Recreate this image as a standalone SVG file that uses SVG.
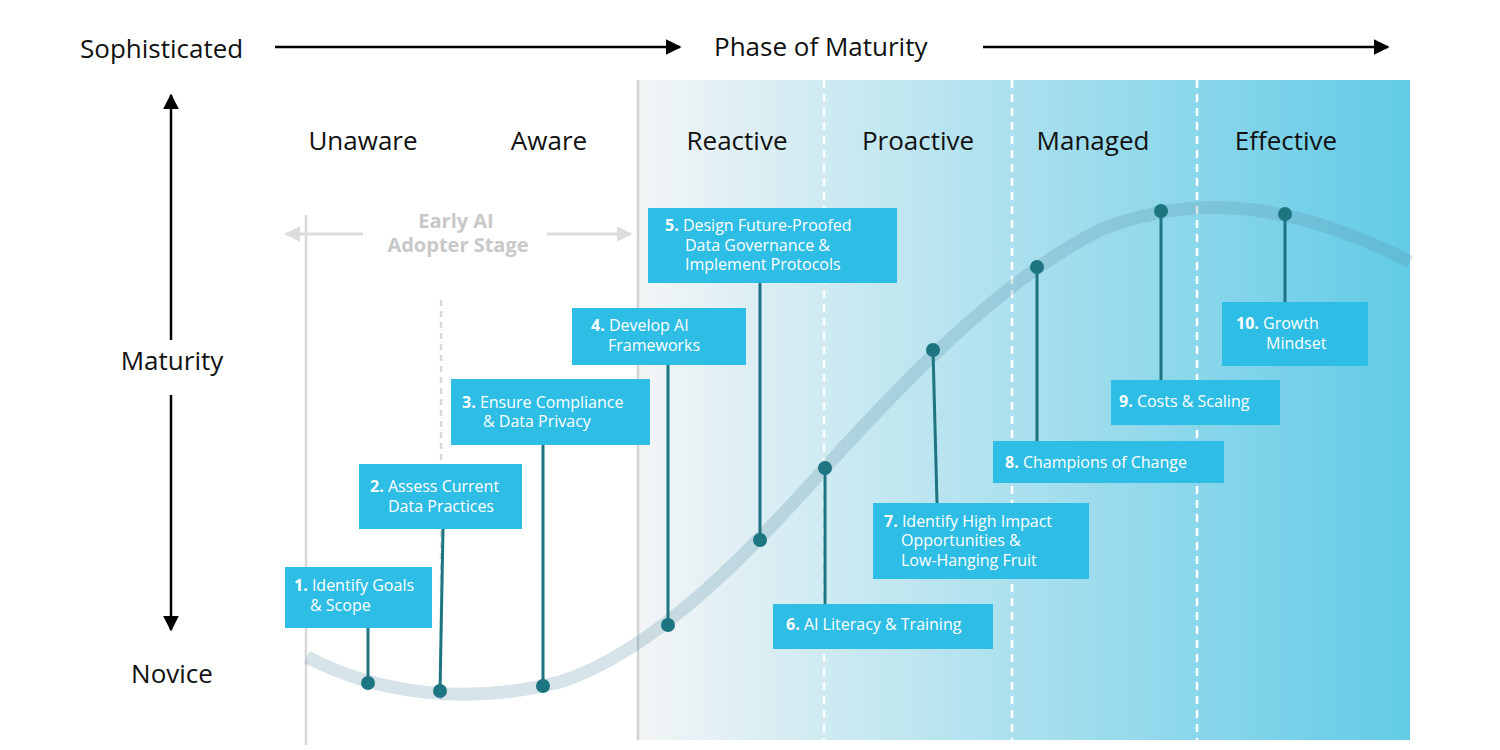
<svg xmlns="http://www.w3.org/2000/svg" width="1500" height="750" viewBox="0 0 1500 750">
<defs>
<linearGradient id="bg" x1="0" y1="0" x2="1" y2="0">
<stop offset="0" stop-color="#f3f5f6"/><stop offset="0.3" stop-color="#c6e8f1"/><stop offset="1" stop-color="#62cbe6"/>
</linearGradient>
<marker id="ah" viewBox="0 0 10 10" refX="9" refY="5" markerWidth="6" markerHeight="6" orient="auto-start-reverse" markerUnits="userSpaceOnUse"><path d="M0,0 L10,5 L0,10 z" fill="#000"/></marker>
<marker id="ahb" viewBox="0 0 10 10" refX="9" refY="5" markerWidth="16" markerHeight="16" orient="auto-start-reverse" markerUnits="userSpaceOnUse"><path d="M0,0 L10,5 L0,10 z" fill="#000"/></marker>
<marker id="ahg" viewBox="0 0 10 10" refX="9" refY="5" markerWidth="16" markerHeight="20" orient="auto-start-reverse" markerUnits="userSpaceOnUse"><path d="M0,0 L10,5 L0,10 z" fill="#dcdcdc"/></marker>
</defs>
<style>
.t{font-family:"Open Sans","Noto Sans",sans-serif;fill:#111}
.big{font-size:26px}
.box{fill:#2ebde4}
.bt{font-family:"Open Sans","Noto Sans",sans-serif;font-size:16px;fill:#fff}
.bt tspan.n{font-weight:bold}
.stem{stroke:#1d7581;stroke-width:3}
.dot{fill:#1d7581}
.ey{font-family:"Open Sans","Noto Sans",sans-serif;font-size:20px;font-weight:bold;fill:#c8c8c8}
</style>
<rect x="638" y="80" width="772" height="660" fill="url(#bg)"/>
<g id="guides">
<line x1="638" y1="80" x2="638" y2="740" stroke="#cfd3d5" stroke-width="2.5"/>
<line x1="306" y1="215" x2="306" y2="745" stroke="#d8d8d8" stroke-width="2.5"/>
<line x1="441" y1="300" x2="441" y2="700" stroke="#d8d8d8" stroke-width="2.5" stroke-dasharray="6,5"/>
<line x1="824" y1="80" x2="824" y2="740" stroke="#fff" stroke-width="2.5" stroke-dasharray="8,6"/>
<line x1="1012" y1="80" x2="1012" y2="740" stroke="#fff" stroke-width="2.5" stroke-dasharray="8,6"/>
<line x1="1197" y1="80" x2="1197" y2="740" stroke="#fff" stroke-width="2.5" stroke-dasharray="8,6"/>
</g>
<path id="curve" d="M307,657 C380,695 470,705 560,682 C660,650 760,540 825,468 C900,385 1000,280 1100,230 C1200,190 1300,205 1410,262" fill="none" stroke="#5d8fa6" stroke-opacity="0.25" stroke-width="13"/>
<g id="axes">
<text class="t big" x="80" y="58">Sophisticated</text>
<line x1="275" y1="47" x2="680" y2="47" stroke="#000" stroke-width="2.5" marker-end="url(#ahb)"/>
<text class="t big" x="714" y="56">Phase of Maturity</text>
<line x1="983" y1="47" x2="1388" y2="47" stroke="#000" stroke-width="2.5" marker-end="url(#ahb)"/>
<line x1="171" y1="340" x2="171" y2="95" stroke="#000" stroke-width="2.5" marker-end="url(#ahb)"/>
<line x1="171" y1="395" x2="171" y2="630" stroke="#000" stroke-width="2.5" marker-end="url(#ahb)"/>
<text class="t big" x="172" y="370" text-anchor="middle">Maturity</text>
<text class="t big" x="172" y="683" text-anchor="middle">Novice</text>
</g>
<g id="stages" class="t big" text-anchor="middle">
<text class="t big" x="363" y="150">Unaware</text>
<text class="t big" x="549" y="150">Aware</text>
<text class="t big" x="737" y="150">Reactive</text>
<text class="t big" x="918" y="150">Proactive</text>
<text class="t big" x="1093" y="150">Managed</text>
<text class="t big" x="1286" y="150">Effective</text>
</g>
<g id="early">
<text class="ey" x="456" y="228" text-anchor="middle">Early AI</text>
<text class="ey" x="458" y="252" text-anchor="middle">Adopter Stage</text>
<line x1="363" y1="234" x2="286" y2="234" stroke="#dcdcdc" stroke-width="3" marker-end="url(#ahg)"/>
<line x1="547" y1="234" x2="631" y2="234" stroke="#dcdcdc" stroke-width="3" marker-end="url(#ahg)"/>
</g>
<g id="connectors">
<line class="stem" x1="368" y1="628" x2="368" y2="683"/>
<line class="stem" x1="443" y1="529" x2="440" y2="691"/>
<line class="stem" x1="543" y1="445" x2="543" y2="686"/>
<line class="stem" x1="668" y1="365" x2="668" y2="625"/>
<line class="stem" x1="760" y1="283" x2="760" y2="540"/>
<line class="stem" x1="825" y1="468" x2="825" y2="604"/>
<line class="stem" x1="933" y1="350" x2="937" y2="503"/>
<line class="stem" x1="1037" y1="267" x2="1037" y2="441"/>
<line class="stem" x1="1161" y1="211" x2="1161" y2="380"/>
<line class="stem" x1="1285" y1="214" x2="1285" y2="302"/>
<circle class="dot" cx="368" cy="683" r="7"/>
<circle class="dot" cx="440" cy="691" r="7"/>
<circle class="dot" cx="543" cy="686" r="7"/>
<circle class="dot" cx="668" cy="625" r="7"/>
<circle class="dot" cx="760" cy="540" r="7"/>
<circle class="dot" cx="825" cy="468" r="7"/>
<circle class="dot" cx="933" cy="350" r="7"/>
<circle class="dot" cx="1037" cy="267" r="7"/>
<circle class="dot" cx="1161" cy="211" r="7"/>
<circle class="dot" cx="1285" cy="214" r="7"/>
</g>
<g id="n1"><rect class="box" x="285" y="567" width="147" height="61"/><text class="bt" x="294" y="591"><tspan class="n">1.</tspan> Identify Goals</text><text class="bt" x="310" y="611">&amp; Scope</text></g>
<g id="n2"><rect class="box" x="359" y="464" width="163" height="65"/><text class="bt" x="370" y="492"><tspan class="n">2.</tspan> Assess Current</text><text class="bt" x="388" y="512">Data Practices</text></g>
<g id="n3"><rect class="box" x="451" y="379" width="199" height="66"/><text class="bt" x="462" y="408"><tspan class="n">3.</tspan> Ensure Compliance</text><text class="bt" x="483" y="427">&amp; Data Privacy</text></g>
<g id="n4"><rect class="box" x="572" y="308" width="174" height="57"/><text class="bt" x="591" y="331"><tspan class="n">4.</tspan> Develop AI</text><text class="bt" x="608" y="351">Frameworks</text></g>
<g id="n5"><rect class="box" x="648" y="208" width="249" height="75"/><text class="bt" x="665" y="231"><tspan class="n">5.</tspan> Design Future-Proofed</text><text class="bt" x="685" y="251">Data Governance &amp;</text><text class="bt" x="685" y="270">Implement Protocols</text></g>
<g id="n6"><rect class="box" x="773" y="604" width="220" height="45"/><text class="bt" x="786" y="630"><tspan class="n">6.</tspan> AI Literacy &amp; Training</text></g>
<g id="n7"><rect class="box" x="873" y="503" width="216" height="76"/><text class="bt" x="884" y="527"><tspan class="n">7.</tspan> Identify High Impact</text><text class="bt" x="901" y="546">Opportunities &amp;</text><text class="bt" x="901" y="566">Low-Hanging Fruit</text></g>
<g id="n8"><rect class="box" x="993" y="441" width="231" height="42"/><text class="bt" x="1005" y="468"><tspan class="n">8.</tspan> Champions of  Change</text></g>
<g id="n9"><rect class="box" x="1111" y="380" width="169" height="45"/><text class="bt" x="1119" y="407"><tspan class="n">9.</tspan> Costs &amp; Scaling</text></g>
<g id="n10"><rect class="box" x="1222" y="302" width="146" height="64"/><text class="bt" x="1236" y="329"><tspan class="n">10.</tspan> Growth</text><text class="bt" x="1266" y="349">Mindset</text></g>
</svg>
